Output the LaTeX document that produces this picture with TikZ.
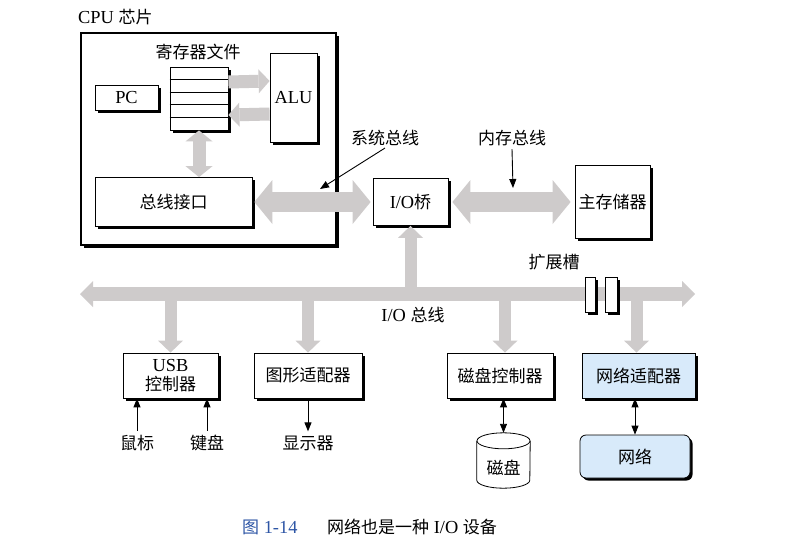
\documentclass[tikz,border=0pt]{standalone}
\usepackage{fontspec}
\setmainfont[Scale=1.08]{Liberation Serif}
\newfontfamily\cjk{Noto Sans CJK SC}
\usetikzlibrary{arrows.meta,shadows,calc}
\newcommand{\zh}[1]{{\cjk #1}}
\definecolor{busgray}{RGB}{206,203,203}
\definecolor{nablue}{RGB}{216,234,250}
\definecolor{capblue}{RGB}{45,85,165}
\begin{document}
\begin{tikzpicture}[x=1pt,y=-1pt,
  box/.style={draw, fill=white, line width=0.8pt, inner sep=0pt, align=center,
    font=\fontsize{17}{18}\selectfont,
    drop shadow={shadow xshift=2.5pt, shadow yshift=-2.5pt, fill=black, opacity=1}},
  lbl/.style={inner sep=0pt, font=\fontsize{17}{19}\selectfont},
  busbig/.style={busgray, line width=20pt,
    {Triangle[width=44pt,length=18pt,line width=0pt]}-{Triangle[width=44pt,length=18pt,line width=0pt]}},
  busio/.style={busgray, line width=14pt,
    {Triangle[width=26pt,length=13pt,line width=0pt]}-{Triangle[width=26pt,length=13pt,line width=0pt]}},
  busdrop/.style={busgray, line width=12pt, -{Triangle[width=25pt,length=12pt,line width=0pt]}},
  busreg/.style={busgray, line width=13pt, -{Triangle[width=24pt,length=11pt,line width=0pt]}},
  busregd/.style={busgray, line width=13pt,
    {Triangle[width=27pt,length=11pt,line width=0pt]}-{Triangle[width=27pt,length=11pt,line width=0pt]}},
  ptr/.style={line width=0.9pt, -{Triangle[width=7pt,length=9pt]}},
  dptr/.style={line width=0.9pt, {Triangle[width=7pt,length=9pt]}-{Triangle[width=7pt,length=9pt]}}
]
\useasboundingbox (0,0) rectangle (805,549);

% CPU chip
\node[lbl, anchor=west] (cpulbl) at (78,17) {CPU \zh{芯片}};
\node[box, line width=1.5pt, minimum width=255pt, minimum height=212pt] (cpu) at (208.5,139) {};
\node[lbl] (reglbl) at (198,52) {\zh{寄存器文件}};
\node[box, minimum width=58pt, minimum height=63pt] (reg) at (199,98.5) {};
\foreach \i in {1,...,4}
  \draw[line width=0.8pt] ($(reg.north west)!\i/5!(reg.south west)$) -- ($(reg.north east)!\i/5!(reg.south east)$);
\node[box, minimum width=63pt, minimum height=25pt] (pc) at (126.5,97.5) {PC};
\node[box, minimum width=47pt, minimum height=89pt] (alu) at (293.5,97.5) {ALU};
\node[box, minimum width=157pt, minimum height=49pt] (bi) at (173.5,202) {\zh{总线接口}};

% bridge and memory
\node[box, minimum width=75pt, minimum height=47pt] (iob) at (410.5,202) {I/O\zh{桥}};
\node[box, minimum width=75pt, minimum height=73pt] (mem) at (612.5,202) {\zh{主存储器}};
\node[lbl] (syslbl) at (385,138) {\zh{系统总线}};
\node[lbl] (memlbl) at (512,138) {\zh{内存总线}};

% devices
\node[box, minimum width=95pt, minimum height=45pt] (usb) at (170.5,375.5) {USB\\[1.5pt]\zh{控制器}};
\node[box, minimum width=108pt, minimum height=45pt] (gfx) at (308,375.5) {\zh{图形适配器}};
\node[box, minimum width=106pt, minimum height=45pt] (dc) at (500,375.5) {\zh{磁盘控制器}};
\node[box, fill=nablue, minimum width=113pt, minimum height=45pt] (na) at (638.5,375.5) {\zh{网络适配器}};
\node[box, fill=nablue, rounded corners=6pt, minimum width=110pt, minimum height=43pt] (net) at (635,456.5) {\zh{网络}};
\node[lbl] (mouse) at (137,443) {\zh{鼠标}};
\node[lbl] (kb) at (207,443) {\zh{键盘}};
\node[lbl] (disp) at (308,443) {\zh{显示器}};
\node[inner sep=0pt, minimum width=53pt, minimum height=55pt] (disk) at (503.5,460.5) {};
\draw[line width=0.8pt, fill=white] ($(disk.north west)+(0,8)$) -- ($(disk.south west)+(0,-8)$)
  arc[start angle=180, end angle=0, x radius=26.5, y radius=8] -- ($(disk.north east)+(0,8)$);
\draw[line width=0.8pt, fill=white] ($(disk.north)+(0,8)$) ellipse[x radius=26.5, y radius=8];
\node[lbl] (disklbl) at (503.5,468) {\zh{磁盘}};

% I/O bus
\coordinate (busL) at (80,294);
\coordinate (busR) at (695,294);
\node[lbl] (iobuslbl) at (413,315) {I/O \zh{总线}};
\node[lbl] (explbl) at (554,262) {\zh{扩展槽}};

% buses
\draw[busreg] ([yshift=16.5pt]reg.east) -- ([yshift=16.5pt]alu.west);
\draw[busreg] ([yshift=-16.5pt]alu.west) -- ([yshift=-16.5pt]reg.east);
\draw[busregd] (reg.south) -- (reg.south |- bi.north);
\draw[busbig] ([xshift=2pt]bi.east) -- ([xshift=-2pt]iob.west);
\draw[busbig] ([xshift=4pt]iob.east) -- ([xshift=-4pt]mem.west);
\draw[busio] (busL) -- (busR);
\draw[busdrop] (iob.south |- busL) -- (iob.south);
\draw[busdrop] (usb.north |- busL) -- (usb.north);
\draw[busdrop] (gfx.north |- busL) -- (gfx.north);
\draw[busdrop] ([xshift=5pt]dc.north |- busL) -- ([xshift=5pt]dc.north);
\draw[busdrop] ([xshift=-2pt]na.north |- busL) -- ([xshift=-2pt]na.north);

% expansion slots
\node[box, minimum width=10pt, minimum height=35pt] (s1) at (590,294.5) {};
\node[box, minimum width=12pt, minimum height=35pt] (s2) at (611,294.5) {};

% pointers
\coordinate (sysp) at (320,189);
\coordinate (memp) at (513,188);
\draw[ptr] (syslbl.south) ++(0,2) -- (sysp);
\draw[ptr] ([yshift=-3pt]memlbl.south) -- (memp);
\draw[ptr] ([yshift=4pt]mouse.north) -- (mouse.north |- usb.south);
\draw[ptr] ([yshift=4pt]kb.north) -- (kb.north |- usb.south);
\draw[ptr] (gfx.south) -- ([yshift=4pt]disp.north);
\draw[dptr] (disk.north |- dc.south) -- (disk.north);
\draw[dptr] (net.north |- na.south) -- (net.north);

% caption
\node[lbl, text=capblue, anchor=west] (figno) at (242,527) {\zh{图} 1-14};
\node[lbl, anchor=west] (cap) at (327,527) {\zh{网络也是一种} I/O \zh{设备}};
\end{tikzpicture}
\end{document}
